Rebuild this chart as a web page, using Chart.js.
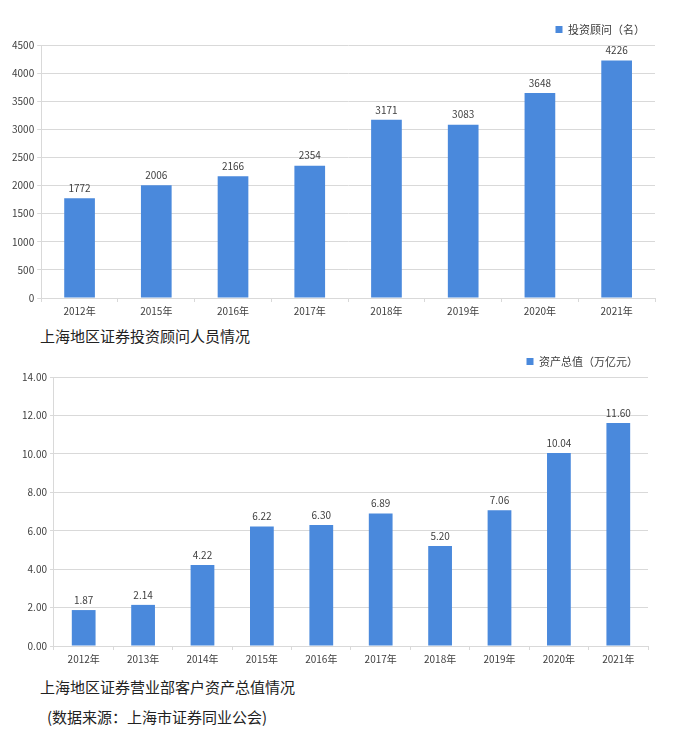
<!DOCTYPE html>
<html>
<head>
<meta charset="utf-8">
<script src="https://cdn.jsdelivr.net/npm/chart.js@4"></script>
<style>
  body { margin: 0; background: #fff; width: 673px; height: 732px; position: relative; overflow: hidden; font-family: "Noto Sans CJK SC", sans-serif; }
  .box { position: absolute; left: 0; width: 673px; }
  .cap { position: absolute; font-size: 15px; color: #222; white-space: nowrap; }
</style>
</head>
<body>
<div class="box" style="top:14px;height:306px"><canvas id="advisorChart"></canvas></div>
<div class="cap" style="left:40px;top:325px">上海地区证券投资顾问人员情况</div>
<div class="box" style="top:346px;height:322px"><canvas id="assetChart"></canvas></div>
<div class="cap" style="left:40px;top:676px">上海地区证券营业部客户资产总值情况</div>
<div class="cap" style="left:47px;top:706px">(数据来源：上海市证券同业公会)</div>
<script>
// 투자고문 인원
const advisorYears = ['2012年', '2015年', '2016年', '2017年', '2018年', '2019年', '2020年', '2021年'];
const advisorCounts = [1772, 2006, 2166, 2354, 3171, 3083, 3648, 4226];

// 고객자산 총액 (万亿元)
const assetYears = ['2012年', '2013年', '2014年', '2015年', '2016年', '2017年', '2018年', '2019年', '2020年', '2021年'];
const assetValues = [1.87, 2.14, 4.22, 6.22, 6.30, 6.89, 5.20, 7.06, 10.04, 11.60];

const barColor = '#4a89dc';
const gridColor = '#d9d9d9';
const textColor = '#404040';
const tickFont = { family: '"Noto Sans CJK SC", sans-serif', size: 10 };

// 막대 위 값 라벨
const valueLabels = {
    id: 'valueLabels',
    afterDatasetsDraw(chart, args, opts) {
        const ctx = chart.ctx;
        ctx.save();
        ctx.fillStyle = textColor;
        ctx.font = '10px "Noto Sans CJK SC", sans-serif';
        ctx.textAlign = 'center';
        ctx.textBaseline = 'bottom';
        chart.getDatasetMeta(0).data.forEach((bar, i) => {
            const v = chart.data.datasets[0].data[i];
            ctx.fillText(opts.fmt(v), bar.x, bar.y - 5);
        });
        ctx.restore();
    }
};

function makeChart(id, labels, values, name, max, step, fmt, pad) {
    new Chart(document.getElementById(id), {
        type: 'bar',
        data: {
            labels: labels,
            datasets: [{
                label: name,
                data: values,
                backgroundColor: barColor,
                barPercentage: 0.8,
                categoryPercentage: 0.5
            }]
        },
        options: {
            responsive: true,
            maintainAspectRatio: false,
            animation: false,
            layout: { padding: pad },
            plugins: {
                legend: {
                    position: 'top',
                    align: 'end',
                    labels: {
                        boxWidth: 7,
                        boxHeight: 7,
                        color: textColor,
                        font: { family: '"Noto Sans CJK SC", sans-serif', size: 11 },
                        padding: 10
                    }
                },
                tooltip: { enabled: false },
                valueLabels: { fmt: fmt }
            },
            scales: {
                y: {
                    min: 0,
                    max: max,
                    ticks: { stepSize: step, color: textColor, font: tickFont, callback: v => fmt(v) },
                    grid: { color: gridColor, tickLength: 4 },
                    border: { color: gridColor }
                },
                x: {
                    ticks: { color: textColor, font: tickFont },
                    grid: { display: true, drawOnChartArea: false, color: gridColor, tickLength: 4 },
                    border: { color: gridColor }
                }
            }
        },
        plugins: [valueLabels]
    });
}

makeChart('advisorChart', advisorYears, advisorCounts, '投资顾问（名）', 4500, 500,
    v => String(v), { left: 9, right: 18, top: 0, bottom: 0 });
makeChart('assetChart', assetYears, assetValues, '资产总值（万亿元）', 14, 2,
    v => Number(v).toFixed(2), { left: 19, right: 25, top: 0, bottom: 0 });
</script>
</body>
</html>
